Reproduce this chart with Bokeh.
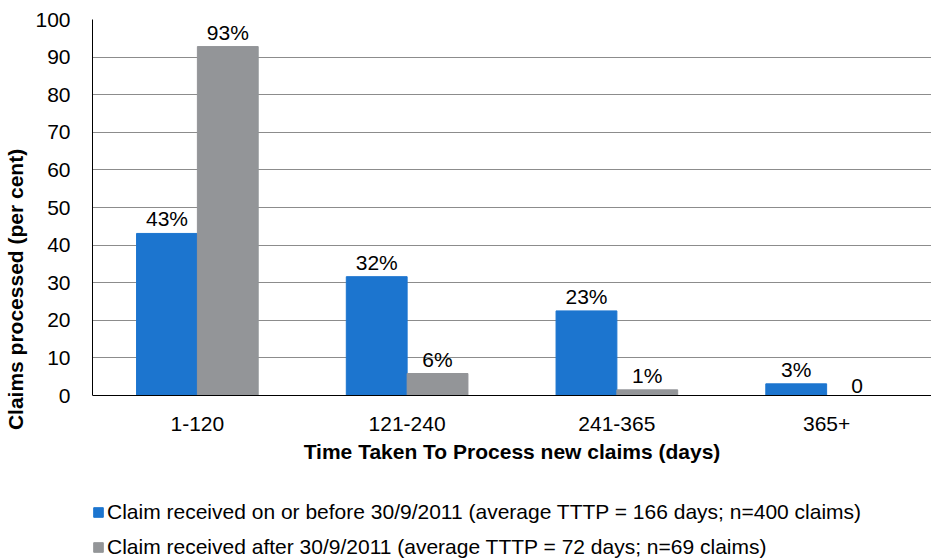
from bokeh.plotting import figure
from bokeh.models import ColumnDataSource, Range1d, FixedTicker, Legend, LegendItem
from bokeh.transform import dodge
from bokeh.embed import file_html
from bokeh.resources import INLINE
from bokeh.core.properties import value

categories = ["1-120", "121-240", "241-365", "365+"]
before_vals = [43.1, 31.6, 22.5, 3.1]
after_vals = [92.8, 5.85, 1.5, 0.0]
before_labels = ["43%", "32%", "23%", "3%"]
after_labels = ["93%", "6%", "1%", "0"]
y_ticks = [0, 10, 20, 30, 40, 50, 60, 70, 80, 90, 100]
series_names = [
    "Claim received on or before 30/9/2011 (average TTTP = 166 days; n=400 claims)",
    "Claim received after 30/9/2011 (average TTTP = 72 days; n=69 claims)",
]
colors = ["#1C75CF", "#939598"]

FONT = "Liberation Sans"

# layout (pixels)
W, H = 931, 559
LEFT, TOP = 92, 19
PLOT_H = 376          # pixel height of the 0..100 value band
FRAME_H = H - TOP
y_low = -100.0 * (FRAME_H - PLOT_H) / PLOT_H   # room below the axis for labels and legend

src = ColumnDataSource(dict(cat=categories, before=before_vals, after=after_vals,
                            bl=before_labels, al=after_labels))

p = figure(x_range=categories, y_range=Range1d(y_low, 100),
           frame_width=W - LEFT, frame_height=FRAME_H,
           output_backend="svg", toolbar_location=None,
           min_border_left=LEFT, min_border_right=0, min_border_top=TOP, min_border_bottom=0)
p.outline_line_color = None
p.background_fill_color = "white"

bw = 0.29
off = 0.145
r1 = p.vbar(x=dodge("cat", -off, range=p.x_range), top="before", bottom=0, width=bw, source=src,
            fill_color=colors[0], line_color=colors[0])
r2 = p.vbar(x=dodge("cat", off, range=p.x_range), top="after", bottom=0, width=bw, source=src,
            fill_color=colors[1], line_color=colors[1])

p.text(x=dodge("cat", -off, range=p.x_range), y="before", text="bl", source=src,
       text_align="center", text_baseline="bottom", y_offset=-3,
       text_font=value(FONT), text_font_size="21px", text_color="black")
p.text(x=dodge("cat", off, range=p.x_range), y="after", text="al", source=src,
       text_align="center", text_baseline="bottom", y_offset=-3,
       text_font=value(FONT), text_font_size="21px", text_color="black")

p.xgrid.grid_line_color = None
p.ygrid.grid_line_color = "#8c8c8c"
p.ygrid.grid_line_width = 1
p.yaxis.ticker = FixedTicker(ticks=y_ticks)
p.yaxis.bounds = (0, 100)
p.xaxis.fixed_location = 0

for ax in (p.xaxis[0], p.yaxis[0]):
    ax.axis_line_color = "black"
    ax.axis_line_width = 1
    ax.major_tick_line_color = None
    ax.minor_tick_line_color = None
    ax.major_label_text_font = FONT
    ax.major_label_text_font_size = "21px"
    ax.major_label_text_color = "black"
    ax.axis_label_text_font = FONT
    ax.axis_label_text_font_size = "21px"
    ax.axis_label_text_font_style = "bold"
    ax.axis_label_text_color = "black"

p.xaxis.axis_label = "Time Taken To Process new claims (days)"
p.yaxis.axis_label = "Claims processed (per cent)"
p.xaxis.major_label_standoff = 15
p.xaxis.axis_label_standoff = 6
p.yaxis.major_label_standoff = 16
p.yaxis.axis_label_standoff = 5

legend = Legend(items=[LegendItem(label=series_names[0], renderers=[r1]),
                       LegendItem(label=series_names[1], renderers=[r2])],
                location=(0, 0), orientation="vertical")
legend.label_text_font = FONT
legend.label_text_font_size = "21px"
legend.label_text_color = "black"
legend.glyph_width = 12
legend.glyph_height = 12
legend.label_standoff = 3
legend.spacing = 11
legend.padding = 0
legend.margin = 0
legend.border_line_color = None
legend.background_fill_alpha = 0
p.add_layout(legend, "center")

open("out.html", "w").write(file_html(p, INLINE))
